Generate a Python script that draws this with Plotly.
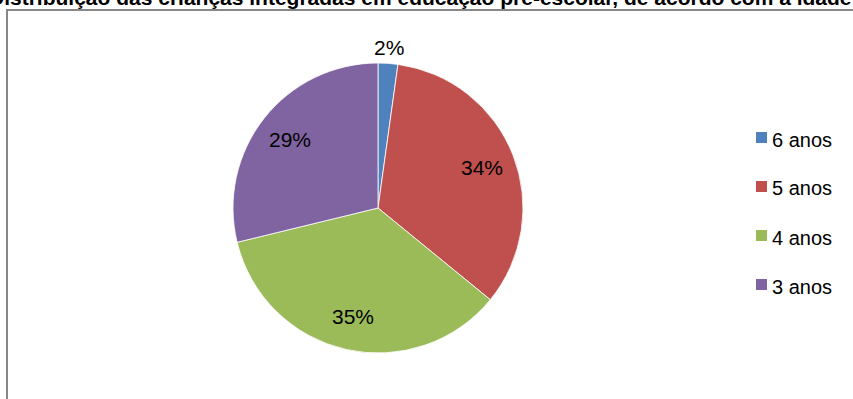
import math
import plotly.graph_objects as go

# Age groups and their share of children in pre-school education
labels = ["6 anos", "5 anos", "4 anos", "3 anos"]
values = [2.2, 33.7, 35.3, 28.8]
colors = ["#4F81BD", "#C0504D", "#9BBB59", "#8064A2"]
title_text = "Distribuição das crianças integradas em educação pré-escolar, de acordo com a idade"

W, H = 853, 399
FONT = "Liberation Sans, Arial, sans-serif"

# pie geometry in pixels
cx, cy, R = 378, 208, 145


def px(x):
    return x / W


def py(y):
    return 1 - y / H


fig = go.Figure(
    go.Pie(
        labels=labels,
        values=values,
        sort=False,
        direction="clockwise",
        rotation=0,
        textinfo="none",
        hoverinfo="label+percent",
        marker=dict(colors=colors, line=dict(color="white", width=0.8)),
        domain=dict(x=[px(cx - R), px(cx + R)], y=[py(cy + R), py(cy - R)]),
        showlegend=False,
    )
)

annotations = []
shapes = []

# percentage labels placed at each slice's mid-angle
total = sum(values)
cum = 0.0
for v in values:
    frac = v / total
    mid = (cum + frac / 2) * 2 * math.pi
    cum += frac
    r = 1.11 * R if frac < 0.05 else 0.77 * R
    x = cx + r * math.sin(mid)
    y = cy - r * math.cos(mid)
    annotations.append(dict(
        x=px(x), y=py(y), xref="paper", yref="paper",
        text=f"{round(frac * 100):d}%", showarrow=False,
        xanchor="center", yanchor="middle",
        font=dict(family=FONT, size=21, color="#000000"),
    ))

# legend on the right
leg_x, leg_y0, leg_dy, sq = 756, 137.5, 49, 11
for i, (lab, col) in enumerate(zip(labels, colors)):
    yc = leg_y0 + i * leg_dy
    shapes.append(dict(
        type="rect", xref="paper", yref="paper",
        x0=px(leg_x), x1=px(leg_x + sq), y0=py(yc + sq / 2), y1=py(yc - sq / 2),
        fillcolor=col, line=dict(width=0),
    ))
    annotations.append(dict(
        x=px(leg_x + sq + 3), y=py(yc + 2), xref="paper", yref="paper",
        text=lab, showarrow=False, xanchor="left", yanchor="middle",
        font=dict(family=FONT, size=20, color="#000000"),
    ))

# chart title running past the top edge
annotations.append(dict(
    x=px(-13), y=py(11), xref="paper", yref="paper",
    text=f"<b>{title_text}</b>", showarrow=False,
    xanchor="left", yanchor="bottom",
    font=dict(family=FONT, size=21, color="#000000"),
))

# chart area border
shapes.append(dict(
    type="rect", xref="paper", yref="paper",
    x0=px(7), y0=py(410), x1=px(870), y1=py(10),
    line=dict(color="#878787", width=2), fillcolor="rgba(0,0,0,0)",
))

fig.update_layout(
    width=W, height=H,
    margin=dict(l=0, r=0, t=0, b=0),
    paper_bgcolor="white",
    plot_bgcolor="white",
    annotations=annotations,
    shapes=shapes,
)

fig.write_html("out.html")
